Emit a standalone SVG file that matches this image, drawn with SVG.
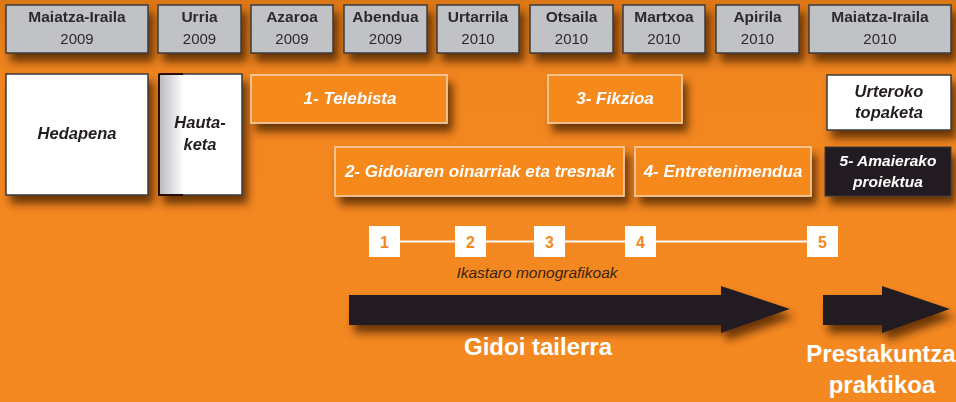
<svg xmlns="http://www.w3.org/2000/svg" width="956" height="402" viewBox="0 0 956 402">
<defs>
<filter id="sh" x="-20%" y="-30%" width="150%" height="180%">
<feGaussianBlur in="SourceAlpha" stdDeviation="4.5"/>
<feOffset dx="5" dy="8" result="b"/>
<feFlood flood-color="#4a2300" flood-opacity="0.8"/>
<feComposite in2="b" operator="in"/>
<feMerge><feMergeNode/><feMergeNode in="SourceGraphic"/></feMerge>
</filter>
<linearGradient id="hg" x1="0" y1="0" x2="1" y2="0">
<stop offset="0" stop-color="#b8b9bd"/>
<stop offset="0.3" stop-color="#ffffff"/>
<stop offset="1" stop-color="#ffffff"/>
</linearGradient>
<linearGradient id="bg" x1="0" y1="0" x2="0" y2="1">
<stop offset="0" stop-color="#dc7716"/>
<stop offset="0.2" stop-color="#f2861f"/>
<stop offset="1" stop-color="#f58921"/>
</linearGradient>
</defs>
<style>
.hd rect{fill:#c1c2c6;stroke:#3a3a3a;stroke-width:1.5}
.t{font-family:"Liberation Sans",Arial,sans-serif;text-anchor:middle}
.ht{font-size:15.5px;font-weight:bold;fill:#2b2b2b}
.hy{font-size:15px;fill:#2b2b2b}
.ob rect{fill:#f5891f;stroke:#f8d3ae;stroke-width:1.5}
.ot{font-size:17px;font-weight:bold;font-style:italic;fill:#ffffff}
.ot.sm{font-size:15.5px}
.wt{font-size:16.5px;font-weight:bold;font-style:italic;fill:#231f20}
.num rect{fill:#ffffff}
.nt{font-size:16px;font-weight:bold;fill:#f5891f}
.big{font-size:24px;font-weight:bold;fill:#ffffff}
</style>
<rect width="956" height="402" fill="url(#bg)"/>

<g id="headers" class="hd" filter="url(#sh)">
<g id="h1"><rect x="6" y="5" width="142" height="48"/><text class="t ht" x="77" y="22">Maiatza-Iraila</text><text class="t hy" x="77" y="44">2009</text></g>
<g id="h2"><rect x="158" y="5" width="83" height="48"/><text class="t ht" x="199.5" y="22">Urria</text><text class="t hy" x="199.5" y="44">2009</text></g>
<g id="h3"><rect x="251" y="5" width="82" height="48"/><text class="t ht" x="292" y="22">Azaroa</text><text class="t hy" x="292" y="44">2009</text></g>
<g id="h4"><rect x="344" y="5" width="83" height="48"/><text class="t ht" x="385.5" y="22">Abendua</text><text class="t hy" x="385.5" y="44">2009</text></g>
<g id="h5"><rect x="437" y="5" width="82" height="48"/><text class="t ht" x="478" y="22">Urtarrila</text><text class="t hy" x="478" y="44">2010</text></g>
<g id="h6"><rect x="530" y="5" width="83" height="48"/><text class="t ht" x="571.5" y="22">Otsaila</text><text class="t hy" x="571.5" y="44">2010</text></g>
<g id="h7"><rect x="623" y="5" width="82" height="48"/><text class="t ht" x="664" y="22">Martxoa</text><text class="t hy" x="664" y="44">2010</text></g>
<g id="h8"><rect x="716" y="5" width="83" height="48"/><text class="t ht" x="757.5" y="22">Apirila</text><text class="t hy" x="757.5" y="44">2010</text></g>
<g id="h9"><rect x="809" y="5" width="142" height="48"/><text class="t ht" x="880" y="22">Maiatza-Iraila</text><text class="t hy" x="880" y="44">2010</text></g>
</g>

<g id="hedapena" filter="url(#sh)"><rect x="6" y="74" width="142" height="121" fill="#ffffff" stroke="#3a3a3a" stroke-width="1.5"/><text class="t wt" x="77" y="139">Hedapena</text></g>
<g id="hautaketa" filter="url(#sh)"><rect x="159" y="74" width="83" height="121" fill="url(#hg)" stroke="#3a3a3a" stroke-width="1.5"/><path d="M159 74 H183 M159 74 V195 H183" stroke="#2a0a05" stroke-width="2" fill="none"/><text class="t wt" x="200" y="128">Hauta-</text><text class="t wt" x="200" y="150">keta</text></g>

<g id="telebista" class="ob" filter="url(#sh)"><rect x="251" y="75" width="196" height="48"/><text class="t ot" x="350" y="104">1- Telebista</text></g>
<g id="fikzioa" class="ob" filter="url(#sh)"><rect x="548" y="75" width="134" height="48"/><text class="t ot" x="615" y="104">3- Fikzioa</text></g>
<g id="gidoiaren" class="ob" filter="url(#sh)"><rect x="335" y="147" width="289" height="49"/><text class="t ot" x="480" y="177">2- Gidoiaren oinarriak eta tresnak</text></g>
<g id="entretenimendua" class="ob" filter="url(#sh)"><rect x="635" y="147" width="176" height="49"/><text class="t ot" x="723" y="177">4- Entretenimendua</text></g>

<g id="urteroko" filter="url(#sh)"><rect x="827" y="75" width="124" height="55" fill="#ffffff" stroke="#3a3a3a" stroke-width="1.5"/><text class="t wt" x="889" y="97">Urteroko</text><text class="t wt" x="889" y="118">topaketa</text></g>
<g id="amaierako" filter="url(#sh)"><rect x="825" y="147" width="126" height="49" fill="#231f20" stroke="#3a3a3a" stroke-width="1"/><text class="t ot sm" x="888" y="166">5- Amaierako</text><text class="t ot sm" x="888" y="187">proiektua</text></g>

<g id="connectors">
<line x1="384" y1="241.5" x2="822" y2="241.5" stroke="#ffffff" stroke-width="2"/>
<path d="M349 295 H721 V286 L790 309 L721 333 V325 H349 Z" fill="#231f20" filter="url(#sh)"/>
<path d="M823 295 H882 V286 L950 309 L882 333 V325 H823 Z" fill="#231f20" filter="url(#sh)"/>
</g>

<g id="courses" class="num">
<g id="n1"><rect x="369" y="226" width="31" height="31"/><text class="t nt" x="384.5" y="247.5">1</text></g>
<g id="n2"><rect x="455" y="226" width="31" height="31"/><text class="t nt" x="470.5" y="247.5">2</text></g>
<g id="n3"><rect x="534" y="226" width="31" height="31"/><text class="t nt" x="549.5" y="247.5">3</text></g>
<g id="n4"><rect x="625" y="226" width="31" height="31"/><text class="t nt" x="640.5" y="247.5">4</text></g>
<g id="n5"><rect x="807" y="226" width="31" height="31"/><text class="t nt" x="822.5" y="247.5">5</text></g>
</g>
<text class="t" x="537" y="278" font-size="15.5" font-style="italic" fill="#3a2410">Ikastaro monografikoak</text>

<text class="t big" x="538" y="355">Gidoi tailerra</text>
<text class="t big" x="881" y="362">Prestakuntza</text>
<text class="t big" x="882" y="393">praktikoa</text>
</svg>
